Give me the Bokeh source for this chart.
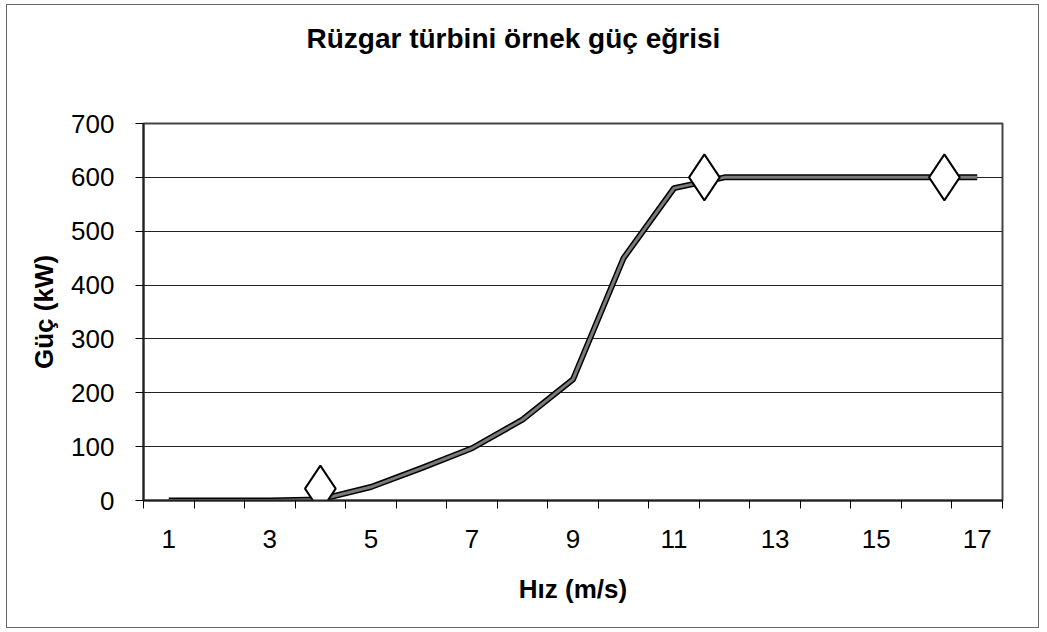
from bokeh.plotting import figure
from bokeh.models import FixedTicker, Range1d, Title
from bokeh.embed import file_html
from bokeh.resources import INLINE

# ---- data ----
speed = list(range(1, 18))
power = [0, 0, 0, 2, 25, 60, 97, 150, 225, 450, 580, 600, 600, 600, 600, 600, 600]
marker_speed = [4.0, 11.6, 16.35]
marker_power = [22, 600, 600]
x_tick_labels = [1, 3, 5, 7, 9, 11, 13, 15, 17]
y_ticks = [0, 100, 200, 300, 400, 500, 600, 700]

title_text = "Rüzgar türbini örnek güç eğrisi"
x_label = "Hız (m/s)"
y_label = "Güç (kW)"

FONT = "Liberation Sans"

p = figure(width=1033, height=624, output_backend="svg", toolbar_location=None,
           x_range=Range1d(0.5, 17.5), y_range=Range1d(0, 700),
           min_border_left=136, min_border_right=38,
           min_border_top=118, min_border_bottom=129,
           background_fill_color="white", border_fill_color="white")

p.styles = {"border": "1px solid #666", "margin-left": "6px", "margin-top": "4px"}

# blank spacer panel next to the frame, then the chart title above it
p.add_layout(Title(text=" ", text_font_size="2px", text_color="white", standoff=66), "above")
p.add_layout(Title(text=title_text, text_font=FONT, text_font_size="28px",
                   text_font_style="bold", text_color="black",
                   align="left", offset=163, standoff=0), "above")

# frame
p.outline_line_color = "#444444"
p.outline_line_width = 2

# grids
p.xgrid.grid_line_color = None
p.ygrid.grid_line_color = "#222222"
p.ygrid.grid_line_width = 1

# x axis
xa = p.xaxis[0]
xa.ticker = FixedTicker(ticks=x_tick_labels, minor_ticks=[i + 0.5 for i in range(0, 18)])
xa.major_tick_line_color = None
xa.major_tick_out = 0
xa.major_tick_in = 0
xa.minor_tick_out = 8
xa.minor_tick_in = 0
xa.minor_tick_line_color = "black"
xa.minor_tick_line_width = 1
xa.axis_line_color = "#222222"
xa.axis_line_width = 2
xa.major_label_text_font = FONT
xa.major_label_text_font_size = "26px"
xa.major_label_text_color = "black"
xa.major_label_standoff = 21
xa.axis_label = x_label
xa.axis_label_text_font = FONT
xa.axis_label_text_font_size = "26px"
xa.axis_label_text_font_style = "bold"
xa.axis_label_text_color = "black"
xa.axis_label_standoff = 23

# y axis
ya = p.yaxis[0]
ya.ticker = FixedTicker(ticks=y_ticks, minor_ticks=[])
ya.major_tick_out = 8
ya.major_tick_in = 0
ya.major_tick_line_color = "black"
ya.major_tick_line_width = 1
ya.axis_line_color = "#222222"
ya.axis_line_width = 2
ya.major_label_text_font = FONT
ya.major_label_text_font_size = "26px"
ya.major_label_text_color = "black"
ya.major_label_standoff = 21
ya.axis_label = y_label
ya.axis_label_text_font = FONT
ya.axis_label_text_font_size = "26px"
ya.axis_label_text_font_style = "bold"
ya.axis_label_text_color = "black"
ya.axis_label_standoff = 9

# power curve
p.line(speed, power, line_color="black", line_width=6, line_join="round")
p.line(speed, power, line_color="#7a7a7a", line_width=3, line_join="round")

# markers
p.scatter(marker_speed, marker_power, marker="diamond", size=46,
          fill_color="white", line_color="black", line_width=2)

open("out.html", "w").write(file_html(p, INLINE))
